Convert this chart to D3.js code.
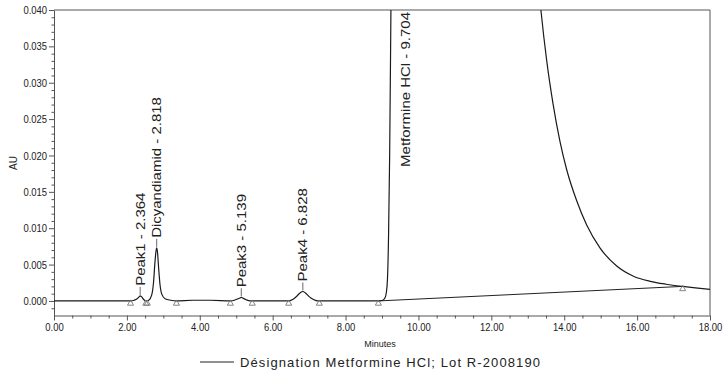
<!DOCTYPE html>
<html>
<head>
<meta charset="utf-8">
<script src="https://cdn.jsdelivr.net/npm/d3@7"></script>
<style>
  html, body { margin: 0; padding: 0; background: #fff; }
  svg { display: block; }
</style>
</head>
<body>
<svg id="chart" width="725" height="374"></svg>
<script>
// Chromatogram trace: retention time (min) and detector response (AU)
const chromTime = [
  0.00, 0.50, 1.00, 1.50, 1.90, 2.10, 2.20, 2.28, 2.34, 2.364, 2.40, 2.46, 2.53,
  2.60, 2.68, 2.73, 2.77, 2.80, 2.818, 2.84, 2.87, 2.91, 2.96, 3.05, 3.20, 3.35,
  3.80, 4.30, 4.85, 4.95, 5.05, 5.10, 5.139, 5.18, 5.26, 5.38, 5.90,
  6.42, 6.55, 6.65, 6.75, 6.828, 6.90, 7.00, 7.12, 7.25, 7.80, 8.40, 8.90,
  9.02, 9.08, 9.12, 9.15, 9.18, 9.21, 9.245, 9.35, 9.704, 10.50, 11.50, 12.50, 13.00,
  13.36, 13.52, 13.69, 13.88, 14.07, 14.34, 14.62, 14.98, 15.44, 15.90, 16.36,
  16.80, 17.25, 17.60, 18.00
];
const chromAU = [
  0.0000, 0.0000, 0.0000, 0.0000, 0.0000, 0.0000, 0.0001, 0.0003, 0.0006, 0.0007, 0.0006, 0.0002, 0.0000,
  0.0001, 0.0008, 0.0025, 0.0053, 0.0069, 0.0073, 0.0067, 0.0046, 0.0022, 0.0009, 0.0003, 0.0001, 0.0000,
  0.0001, 0.0001, 0.0000, 0.0001, 0.0003, 0.0004, 0.0005, 0.0004, 0.0002, 0.0000, 0.0000,
  0.0000, 0.0002, 0.0006, 0.0011, 0.0013, 0.0011, 0.0006, 0.0002, 0.0000, 0.0000, 0.0000, 0.0000,
  0.0001, 0.0004, 0.0012, 0.0030, 0.0090, 0.0200, 0.0400, 0.0900, 0.9000, 0.4500, 0.2200, 0.1000, 0.0620,
  0.0400, 0.0330, 0.0272, 0.0220, 0.0180, 0.0138, 0.0104, 0.0073, 0.0048, 0.0034, 0.0027,
  0.0023, 0.0020, 0.0018, 0.0016
];

// Labelled peaks
const peakNames = ["Peak1", "Dicyandiamid", "Peak3", "Peak4", "Metformine HCl"];
const peakTimes = [2.364, 2.818, 5.139, 6.828, 9.704];

// Integration start/end markers (min) and the baseline value under each
const markerTimes = [2.10, 2.52, 2.56, 3.36, 4.84, 5.44, 6.44, 7.28, 8.90, 17.25];
const markerAU    = [0.0000, 0.0000, 0.0000, 0.0000, 0.0000, 0.0000, 0.0000, 0.0000, 0.0000, 0.0020];

// Drawn baseline under the main peak
const mainBaselineTime = [8.90, 17.25];
const mainBaselineAU   = [0.0000, 0.0020];

// Axis ticks
const xMajorTicks = [0, 2, 4, 6, 8, 10, 12, 14, 16, 18];
const xMinorTicks = [0.5, 1, 1.5, 2.5, 3, 3.5, 4.5, 5, 5.5, 6.5, 7, 7.5, 8.5, 9, 9.5,
  10.5, 11, 11.5, 12.5, 13, 13.5, 14.5, 15, 15.5, 16.5, 17, 17.5];
const yMajorTicks = [0.000, 0.005, 0.010, 0.015, 0.020, 0.025, 0.030, 0.035, 0.040];
const yMinorTicks = d3.range(-1, 40, 1).filter(v => v % 5 !== 0).map(v => v / 1000);

const xTitle = "Minutes";
const yTitle = "AU";
const legendText = "Désignation Metformine HCl; Lot R-2008190";

(function draw() {
  const svg = d3.select("#chart");
  const pl = 54, pr = 710, pt = 10, pb = 315.5;
  const ink = "#222";
  const fontFamily = "'Liberation Sans', Arial, sans-serif";

  const x = d3.scaleLinear().domain([0, 18]).range([pl, pr]);
  const y = d3.scaleLinear().domain([-0.002, 0.040]).range([pb, pt]);

  svg.append("rect").attr("width", 725).attr("height", 374).attr("fill", "#fff");

  // Plot frame (top and right edges)
  svg.append("path")
    .attr("d", `M${pl},${pt}H${pr}V${pb}`)
    .attr("fill", "none").attr("stroke", "#555").attr("stroke-width", 1);

  // Minor ticks
  svg.append("g").attr("transform", `translate(0,${pb})`)
    .call(d3.axisBottom(x).tickValues(xMinorTicks).tickSize(3).tickSizeOuter(0).tickFormat(""))
    .call(g => g.select(".domain").remove())
    .call(g => g.selectAll("line").attr("stroke", "#555"));
  svg.append("g").attr("transform", `translate(${pl},0)`)
    .call(d3.axisLeft(y).tickValues(yMinorTicks).tickSize(2.5).tickSizeOuter(0).tickFormat(""))
    .call(g => g.select(".domain").remove())
    .call(g => g.selectAll("line").attr("stroke", "#555"));

  // Major axes
  const xAxis = svg.append("g").attr("transform", `translate(0,${pb})`)
    .call(d3.axisBottom(x).tickValues(xMajorTicks).tickSize(5).tickSizeOuter(0).tickPadding(3)
      .tickFormat(d3.format(".2f")));
  const yAxis = svg.append("g").attr("transform", `translate(${pl},0)`)
    .call(d3.axisLeft(y).tickValues(yMajorTicks).tickSize(5).tickSizeOuter(0).tickPadding(3)
      .tickFormat(d3.format(".3f")));
  [xAxis, yAxis].forEach(a => {
    a.select(".domain").attr("stroke", "#555");
    a.selectAll("line").attr("stroke", "#555");
    a.selectAll("text")
      .attr("fill", ink)
      .style("font-family", fontFamily)
      .style("font-size", "11px")
      .attr("transform", "scale(0.86,1)");
  });

  // Axis titles
  svg.append("text")
    .attr("x", (pl + pr) / 2 - 2).attr("y", 346.5)
    .attr("text-anchor", "middle").attr("fill", ink)
    .style("font-family", fontFamily).style("font-size", "9px")
    .text(xTitle);
  svg.append("text")
    .attr("transform", "translate(17,163) rotate(-90)")
    .attr("text-anchor", "middle").attr("fill", ink)
    .style("font-family", fontFamily).style("font-size", "10px")
    .text(yTitle);

  // Legend
  svg.append("line")
    .attr("x1", 200).attr("x2", 234).attr("y1", 362).attr("y2", 362)
    .attr("stroke", ink).attr("stroke-width", 1);
  svg.append("text")
    .attr("x", 240).attr("y", 366.5)
    .attr("fill", ink)
    .attr("textLength", 300).attr("lengthAdjust", "spacing")
    .style("font-family", fontFamily).style("font-size", "13px")
    .text(legendText);

  // Clip to the plotting area
  svg.append("clipPath").attr("id", "plot-clip")
    .append("rect").attr("x", pl).attr("y", pt).attr("width", pr - pl).attr("height", pb - pt);

  const plot = svg.append("g").attr("clip-path", "url(#plot-clip)");

  const trace = chromTime.map((t, i) => ({ t, v: chromAU[i] }));
  const line = d3.line().x(d => x(d.t)).y(d => y(d.v)).curve(d3.curveMonotoneX);

  // Baseline under the main peak
  plot.append("path")
    .datum(mainBaselineTime.map((t, i) => ({ t, v: mainBaselineAU[i] })))
    .attr("d", d3.line().x(d => x(d.t)).y(d => y(d.v)))
    .attr("fill", "none").attr("stroke", "#222").attr("stroke-width", 1);

  // Detector trace
  plot.append("path")
    .datum(trace)
    .attr("d", line)
    .attr("fill", "none").attr("stroke", "#1a1a1a").attr("stroke-width", 1.2)
    .attr("stroke-linejoin", "round");

  // Integration markers (open triangles)
  const tri = d3.symbol().type(d3.symbolTriangle).size(16);
  plot.selectAll("path.marker")
    .data(markerTimes.map((t, i) => ({ t, v: markerAU[i] })))
    .join("path")
    .attr("class", "marker")
    .attr("d", tri)
    .attr("transform", d => `translate(${x(d.t)},${y(d.v) + 2.5})`)
    .attr("fill", "none").attr("stroke", "#777").attr("stroke-width", 0.9);

  // Peak labels
  peakNames.forEach((name, i) => {
    const t = peakTimes[i];
    const v = chromAU[chromTime.indexOf(t)];
    const label = `${name} - ${t.toFixed(3)}`;
    const px = x(t);
    if (y(v) > pt + 20) {
      const py = y(v);
      svg.append("line")
        .attr("x1", px).attr("x2", px).attr("y1", py - 1).attr("y2", py - 9)
        .attr("stroke", "#444").attr("stroke-width", 0.8);
      svg.append("text")
        .attr("transform", `translate(${px},${py - 10}) scale(0.85,1) rotate(-90)`)
        .attr("dy", "0.35em")
        .attr("fill", ink)
        .style("font-family", fontFamily).style("font-size", "15px")
        .text(label);
    } else {
      svg.append("text")
        .attr("transform", `translate(${px - 2},${pt + 2}) scale(0.85,1) rotate(-90)`)
        .attr("dy", "0.35em")
        .attr("text-anchor", "end")
        .attr("fill", ink)
        .style("font-family", fontFamily).style("font-size", "15px")
        .text(label);
    }
  });
})();
</script>
</body>
</html>
